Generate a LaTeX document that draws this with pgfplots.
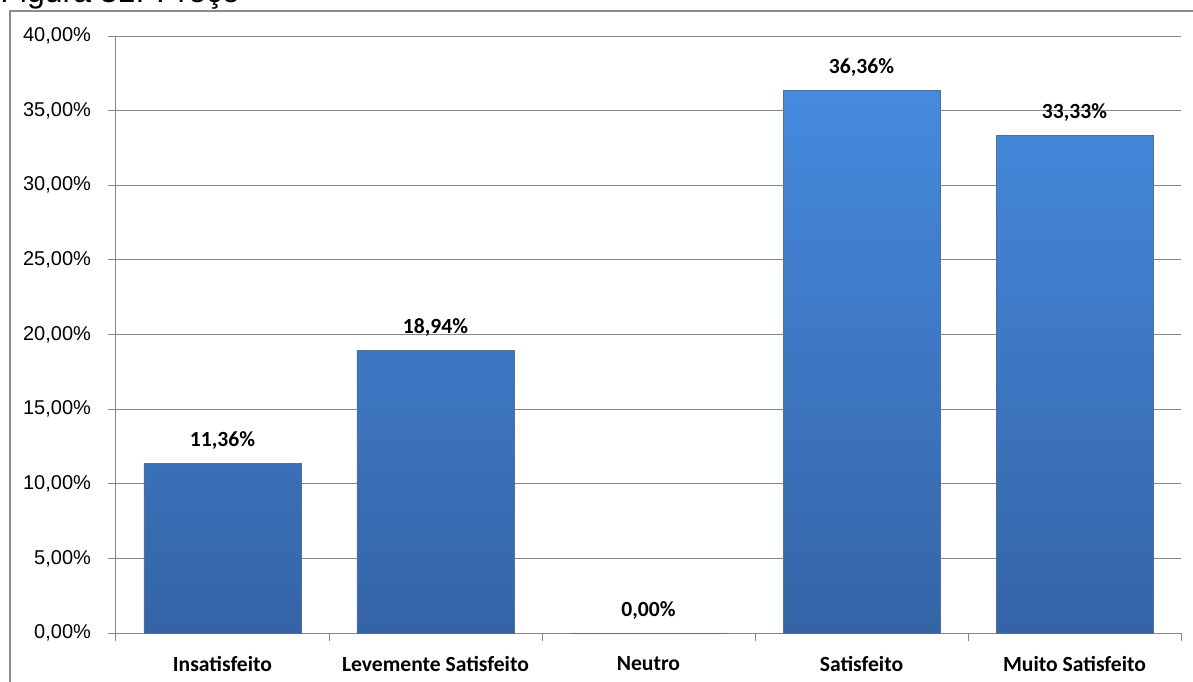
\documentclass[border=0pt]{standalone}
\usepackage{pgfplots}
\pgfplotsset{compat=1.18}
\usepackage{fontspec}
\setmainfont{Liberation Sans}
\newfontfamily\calibri{Carlito}

\definecolor{gridgray}{RGB}{134,134,134}
\definecolor{framegray}{RGB}{140,140,140}
\definecolor{bartop}{RGB}{70,138,222}
\definecolor{barbottom}{RGB}{52,100,166}
\definecolor{baredge}{RGB}{80,110,150}

\begin{document}
\begin{tikzpicture}
% page area
\useasboundingbox (-58pt,-24pt) rectangle (538.5pt,316.5pt);
% outer chart frame
\draw[framegray, line width=0.75pt] (-53pt,-40pt) rectangle (560pt,311pt);
\node[anchor=base west, inner sep=0pt, font=\fontsize{16}{19}\selectfont] at (-58pt,315pt) {Figura 31: Preço};

\begin{axis}[
  scale only axis,
  width=532.5pt, height=298.5pt,
  xmin=-0.5, xmax=4.5,
  ymin=0, ymax=40,
  axis x line*=bottom,
  axis y line*=left,
  axis line style={gridgray, line width=0.5pt},
  ytick={0,5,...,40},
  yticklabels={{0,00\%},{5,00\%},{10,00\%},{15,00\%},{20,00\%},{25,00\%},{30,00\%},{35,00\%},{40,00\%}},
  yticklabel style={font=\fontsize{10}{12}\selectfont, text=black, xshift=-5pt},
  ymajorgrids,
  grid style={gridgray, line width=0.5pt},
  major tick style={gridgray, line width=0.5pt},
  tick align=outside,
  major tick length=4pt,
  % category boundaries carry the tick marks
  xtick={-0.5,0.5,1.5,2.5,3.5,4.5},
  xticklabels={},
  xticklabel style={font=\calibri\bfseries\fontsize{10.8}{12}\selectfont, text=black, yshift=-8pt},
  % category names sit in the middle of each slot
  extra x ticks={0,1,2,3,4},
  extra x tick labels={Insatisfeito,Levemente Satisfeito,Neutro,Satisfeito,Muito Satisfeito},
  extra x tick style={major tick length=0pt},
  ybar,
  bar width=78.5pt,
  nodes near coords={\pgfmathprintnumber[fixed,fixed zerofill,precision=2,use comma,assume math mode=true]{\pgfplotspointmeta}\%},
  every node near coord/.append style={font=\calibri\bfseries\fontsize{10.8}{12}\selectfont, text=black, anchor=base, yshift=8.5pt, inner sep=0pt},
]
\addplot[draw=baredge, line width=0.4pt, top color=bartop, bottom color=barbottom] coordinates {
  (0,11.36) (1,18.94) (2,0) (3,36.36) (4,33.33)
};
\end{axis}
\end{tikzpicture}
\end{document}
